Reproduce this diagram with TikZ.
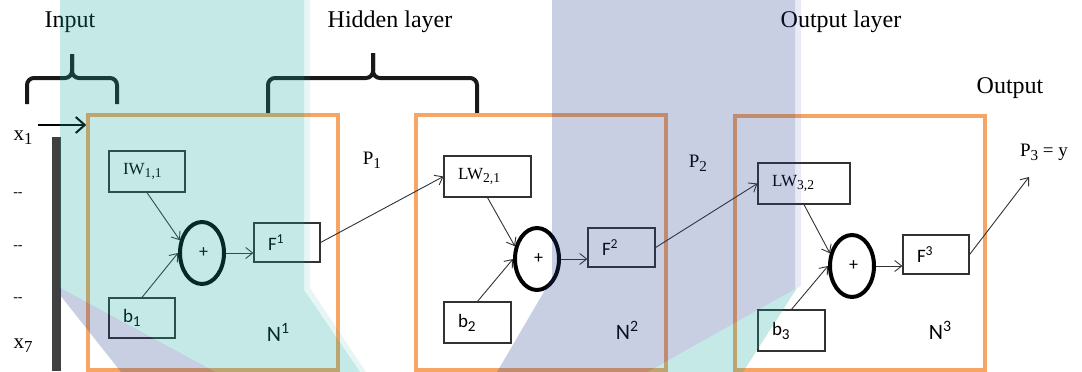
\documentclass[tikz,border=0pt]{standalone}
\usepackage{fontspec}
\setmainfont{Liberation Serif}
\newfontfamily\calib{Carlito}
\usepackage{tikz}
\usetikzlibrary{arrows.meta,shapes.geometric}
\definecolor{frameorange}{RGB}{247,165,100}
\definecolor{boxgray}{RGB}{50,50,50}
\definecolor{bargray}{RGB}{64,64,64}
\definecolor{wmteal}{RGB}{19,167,155}
\definecolor{wmlav}{RGB}{35,63,143}
\newcommand\lo[1]{\raisebox{-.45ex}{\scalebox{.8}{#1}}}
\newcommand\hi[1]{\raisebox{.75ex}{\scalebox{.72}{#1}}}

\begin{document}
\begin{tikzpicture}[x=1pt,y=-1pt,
    layer/.style={draw=frameorange,line width=3.5pt,minimum width=250pt,minimum height=255pt,inner sep=0pt},
    wbox/.style={draw=boxgray,line width=1.2pt,inner xsep=14pt,inner ysep=0pt,align=left,font=\fontsize{17}{19}\selectfont},
    sbox/.style={wbox,font=\calib\fontsize{19}{21}\selectfont},
    sumnode/.style={ellipse,draw,line width=4pt,minimum width=44pt,minimum height=62pt,inner sep=0pt,font=\calib\fontsize{18}{20}\selectfont},
    lnk/.style={draw=boxgray,line width=.9pt,-{Straight Barb[length=7pt,width=11pt]}},
    brc/.style={line width=4pt,rounded corners=7pt,black!90},
    ttl/.style={font=\fontsize{24}{26}\selectfont},
    lbl/.style={font=\fontsize{19}{21}\selectfont},
    nlbl/.style={font=\calib\fontsize{22}{24}\selectfont}]
        \useasboundingbox (0,0) rectangle (1082,372);
        \node[ttl] (tin) at (70,22) {Input};
        \node[ttl] (thid) at (390,22) {Hidden layer};
        \node[ttl] (tout) at (841,22) {Output layer};
        \node[ttl] (tres) at (1010,88) {Output};
        \draw[brc] (27,104) -- (27,78) -- (72,78) -- (72,54);
        \draw[brc] (117,104) -- (117,78) -- (72,78) -- (72,54);
        \draw[brc] (268,113) -- (268,78) -- (373,78) -- (373,53);
        \draw[brc] (477,113) -- (477,78) -- (373,78) -- (373,53);
        \node[lbl,font=\fontsize{21}{23}\selectfont] (x1) at (23,138) {x\lo{1}};
        \node[font=\fontsize{14}{16}\selectfont] (d1) at (18,195) {-{}-};
        \node[font=\fontsize{14}{16}\selectfont] (d2) at (18,248) {-{}-};
        \node[font=\fontsize{14}{16}\selectfont] (d3) at (18,300) {-{}-};
        \node[lbl,font=\fontsize{21}{23}\selectfont] (x7) at (23,346) {x\lo{7}};
        \fill[bargray] (52,137) rectangle (61,371);
        \node[layer] (lay1) at (213,242.5) {};
        \node[layer] (lay2) at (541,242.5) {};
        \node[layer,minimum height=254pt] (lay3) at (860,243) {};
        \coordinate (xin) at (38,125);
        \draw[line width=2pt,-{Straight Barb[length=9pt,width=16pt]}] (xin) -- (xin -| lay1.west);
        % first block
        \node[wbox,text width=48pt,minimum height=41pt] (iw1) at (147,171.5) {IW\lo{1,1}};
        \node[sumnode] (sum1) at (202,253) {\,+};
        \node[sbox,text width=38pt,minimum height=39pt] (f1) at (287,242.5) {F\hi{1}};
        \node[sbox,text width=38pt,minimum height=40pt] (b1) at (142,318) {b\lo{1}};
        \node[nlbl] (n1) at (278,332) {N\hi{1}};
        \node[lbl] (p1) at (372,160) {P\lo{1}};
        % second block
        \node[wbox,text width=59pt,minimum height=41pt] (lw2) at (487.5,176.5) {LW\lo{2,1}};
        \node[sumnode] (sum2) at (537,259) {\,+};
        \node[sbox,text width=39pt,minimum height=39pt] (f2) at (621.5,247.5) {F\hi{2}};
        \node[sbox,text width=39pt,minimum height=41pt] (b2) at (477.5,322.5) {b\lo{2}};
        \node[nlbl] (n2) at (627,330) {N\hi{2}};
        \node[lbl] (p2) at (698,163) {P\lo{2}};
        % third block
        \node[wbox,text width=64pt,minimum height=41pt] (lw3) at (804,183.5) {LW\lo{3,2}};
        \node[sumnode] (sum3) at (852,266) {\,+};
        \node[sbox,text width=38pt,minimum height=39pt] (f3) at (936,254.5) {F\hi{3}};
        \node[sbox,text width=39pt,minimum height=41pt] (b3) at (791.5,330.5) {b\lo{3}};
        \node[nlbl] (n3) at (940,330) {N\hi{3}};
        \node[lbl] (p3) at (1044,152) {P\lo{3} = y};
        \coordinate (yend) at (1029,177);
        \draw[lnk] (iw1.south) -- (sum1.150);
        \draw[lnk] (b1.north) -- (sum1.west);
        \draw[lnk] (sum1.east) -- (sum1.east -| f1.west);
        \draw[lnk] (f1.east) -- (lw2.west);
        \draw[lnk] (lw2.south) -- (sum2.150);
        \draw[lnk] (b2.north) -- (sum2.west);
        \draw[lnk] (sum2.east) -- (sum2.east -| f2.west);
        \draw[lnk] (f2.east) -- (lw3.west);
        \draw[lnk] (lw3.south) -- (sum3.150);
        \draw[lnk] (b3.north) -- (sum3.west);
        \draw[lnk] (sum3.east) -- (sum3.east -| f3.west);
        \draw[lnk] (f3.east) -- (yend);
        % watermark
        \fill[wmteal,fill opacity=.25] (60,0) -- (304,0) -- (304,290) -- (360,372) -- (215,372) -- (60,288) -- cycle;
        \fill[wmteal,fill opacity=.1] (304,0) -- (310,0) -- (310,288) -- (366,372) -- (360,372) -- (304,290) -- cycle;
        \fill[wmlav,fill opacity=.25] (60,288) -- (215,372) -- (121,372) -- (60,295) -- cycle;
        \fill[wmlav,fill opacity=.25] (552,0) -- (795,0) -- (795,289) -- (647,372) -- (497,372) -- (552,278) -- cycle;
        \fill[wmlav,fill opacity=.1] (795,0) -- (801,0) -- (801,286) -- (795,289) -- cycle;
        \fill[wmteal,fill opacity=.25] (647,372) -- (797,288) -- (743,372) -- cycle;
    \end{tikzpicture}
\end{document}
